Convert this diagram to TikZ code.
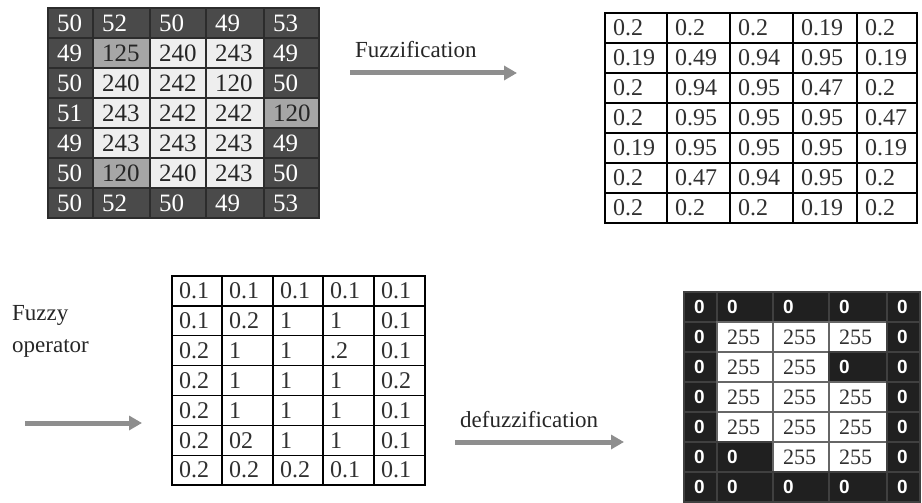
\documentclass[tikz,border=0pt]{standalone}
\usepackage{fontspec}
\setmainfont{Liberation Serif}
\newfontfamily\numserif{Liberation Serif}
\newfontfamily\zerofont{Liberation Sans}
\usetikzlibrary{arrows.meta}

\definecolor{darkcell}{HTML}{4A4A4A}
\definecolor{darkgrid}{HTML}{2C2C2C}
\definecolor{lightcell}{HTML}{EEEEEE}
\definecolor{midcell}{HTML}{A6A6A6}
\definecolor{blackcell}{HTML}{202020}
\definecolor{numgray}{HTML}{303030}
\definecolor{arrowgray}{HTML}{8E8E8E}

% one table: #1 prefix, #2 column borders, #3 top, #4 row height, #5 inset, #6 rows of kind/value
\newcommand{\drawtable}[6]{%
  \foreach \rowlist [count=\ri from 0] in {#6} {
    \foreach \ki/\vi [count=\ci from 0] in \rowlist {
      \pgfmathsetmacro{\xa}{{#2}[\ci]}
      \pgfmathsetmacro{\xb}{{#2}[\ci+1]}
      \pgfmathsetmacro{\ya}{#3+\ri*#4}
      \pgfmathsetmacro{\yb}{#3+(\ri+1)*#4}
      \path[cell#1\ki] (\xa,\ya) rectangle (\xb,\yb);
      \node[txt#1\ki, anchor=west, inner sep=0pt] (#1-\ri-\ci) at ({\xa+#5},{(\ya+\yb)/2}) {\vi};
    }
  }
}

\begin{document}
\begin{tikzpicture}[x=1pt, y=-1pt,
  % input image, grey levels
  cellAd/.style={fill=darkcell, draw=darkgrid, line width=1.6pt},
  cellAl/.style={fill=lightcell, draw=darkgrid, line width=1.6pt},
  cellAm/.style={fill=midcell, draw=darkgrid, line width=1.6pt},
  txtAd/.style={text=white, font=\numserif\fontsize{25}{25}\selectfont},
  txtAl/.style={text=black!85, font=\numserif\fontsize{25}{25}\selectfont},
  txtAm/.style={text=black!85, font=\numserif\fontsize{25}{25}\selectfont},
  % membership tables
  cellBw/.style={fill=white, draw=black, line width=1.3pt},
  txtBw/.style={text=numgray, font=\numserif\fontsize{24}{24}\selectfont},
  cellCw/.style={fill=white, draw=black, line width=1.3pt},
  txtCw/.style={text=numgray, font=\numserif\fontsize{24}{24}\selectfont},
  % output image, binary
  cellDk/.style={fill=blackcell, draw=black!75, line width=1.2pt},
  cellDw/.style={fill=white, draw=black!60, line width=1.2pt},
  txtDk/.style={text=white, font=\zerofont\bfseries\fontsize{19}{19}\selectfont},
  txtDw/.style={text=numgray, font=\numserif\fontsize{22}{22}\selectfont},
  stagelabel/.style={text=black!85, font=\numserif\fontsize{23}{32}\selectfont, inner sep=0pt},
  stagearrow/.style={draw=arrowgray, line width=5pt,
    -{Triangle[length=13pt, width=14pt]}}
]
\useasboundingbox (0,0) rectangle (922,503);

% input grey-level image
\drawtable{A}{48,93,150,206,264,319}{8}{30}{9}{
  {d/50,d/52,d/50,d/49,d/53},
  {d/49,m/125,l/240,l/243,d/49},
  {d/50,l/240,l/242,l/120,d/50},
  {d/51,l/243,l/242,l/242,m/120},
  {d/49,l/243,l/243,l/243,d/49},
  {d/50,m/120,l/240,l/243,d/50},
  {d/50,d/52,d/50,d/49,d/53}}

% fuzzified memberships
\drawtable{B}{605,667,730,793,857,917}{13}{30}{8}{
  {w/0.2,w/0.2,w/0.2,w/0.19,w/0.2},
  {w/0.19,w/0.49,w/0.94,w/0.95,w/0.19},
  {w/0.2,w/0.94,w/0.95,w/0.47,w/0.2},
  {w/0.2,w/0.95,w/0.95,w/0.95,w/0.47},
  {w/0.19,w/0.95,w/0.95,w/0.95,w/0.19},
  {w/0.2,w/0.47,w/0.94,w/0.95,w/0.2},
  {w/0.2,w/0.2,w/0.2,w/0.19,w/0.2}}

% after the fuzzy operator
\drawtable{C}{172,222,273,323,374,425}{276}{29.86}{7}{
  {w/0.1,w/0.1,w/0.1,w/0.1,w/0.1},
  {w/0.1,w/0.2,w/1,w/1,w/0.1},
  {w/0.2,w/1,w/1,w/.2,w/0.1},
  {w/0.2,w/1,w/1,w/1,w/0.2},
  {w/0.2,w/1,w/1,w/1,w/0.1},
  {w/0.2,w/02,w/1,w/1,w/0.1},
  {w/0.2,w/0.2,w/0.2,w/0.1,w/0.1}}

% defuzzified binary image
\drawtable{D}{684,717,773,829,887,920}{292}{30}{10}{
  {k/0,k/0,k/0,k/0,k/0},
  {k/0,w/255,w/255,w/255,k/0},
  {k/0,w/255,w/255,k/0,k/0},
  {k/0,w/255,w/255,w/255,k/0},
  {k/0,w/255,w/255,w/255,k/0},
  {k/0,k/0,w/255,w/255,k/0},
  {k/0,k/0,k/0,k/0,k/0}}

% stage labels and arrows
\node[stagelabel, anchor=base west] (fuzz) at (355,58) {Fuzzification};
\coordinate (fuzzA) at (350,73);
\coordinate (fuzzB) at (517,73);
\draw[stagearrow] (fuzzA) -- (fuzzB);

% the base of this two-line label is the baseline of its last line
\node[stagelabel, anchor=base west, align=left] (op) at (12,352) {Fuzzy\\operator};
\coordinate (opA) at (25,423);
\coordinate (opB) at (142,423);
\draw[stagearrow] (opA) -- (opB);

\node[stagelabel, anchor=base west] (defuzz) at (460,427) {defuzzification};
\coordinate (defA) at (455,442);
\coordinate (defB) at (624,442);
\draw[stagearrow] (defA) -- (defB);
\end{tikzpicture}
\end{document}
